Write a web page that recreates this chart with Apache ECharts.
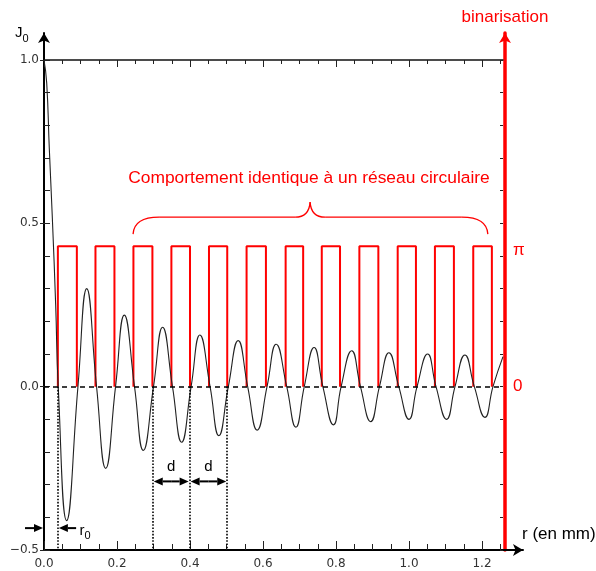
<!DOCTYPE html>
<html><head><meta charset="utf-8">
<script src="https://cdn.jsdelivr.net/npm/echarts@6/dist/echarts.min.js"></script>
<style>html,body{margin:0;padding:0;background:#fff}#c{width:596px;height:571px}</style>
</head><body><div id="c"></div>
<script>
// ---- data ----
// J0 curve samples: r (mm) and value
const besselR = [0, 0.0074, 0.0145, 0.0227, 0.032, 0.039, 0.062, 0.093, 0.117, 0.144, 0.169, 0.196, 0.220, 0.248, 0.272, 0.300, 0.325, 0.352, 0.377, 0.403, 0.427, 0.455, 0.479, 0.505, 0.532, 0.558, 0.584, 0.611, 0.636, 0.665, 0.690, 0.713, 0.740, 0.764, 0.793, 0.814, 0.843, 0.867, 0.895, 0.919, 0.945, 0.972, 1.000, 1.022, 1.051, 1.074, 1.103, 1.126, 1.153, 1.179, 1.208, 1.230, 1.2575];
const besselV = [1.0, 0.93, 0.73, 0.52, 0.25, 0, -0.41, 0, 0.30, 0, -0.25, 0, 0.219, 0, -0.195, 0, 0.182, 0, -0.17, 0, 0.158, 0, -0.15, 0, 0.141, 0, -0.133, 0, 0.13, 0, -0.124, 0, 0.12, 0, -0.117, 0, 0.11, 0, -0.107, 0, 0.104, 0, -0.10, 0, 0.10, 0, -0.10, 0, 0.097, 0, -0.094, 0, 0.092];
// binarisation edges (zero crossings), mm — pairs of rising/falling edges
const binEdges = [0.038, 0.090, 0.141, 0.193, 0.245, 0.297, 0.349, 0.400, 0.452, 0.502, 0.555, 0.608, 0.662, 0.710, 0.761, 0.811, 0.864, 0.916, 0.969, 1.019, 1.071, 1.123, 1.176, 1.227];
const binHigh = 0.43;            // level of "π" on the J0 scale
const xTickLabels = [0, 0.2, 0.4, 0.6, 0.8, 1.0, 1.2];
const yTickLabels = [-0.5, 0, 0.5, 1.0];
const rightLabels = [0, binHigh];
const r0 = 0.038;
const dLines = [0.298, 0.399, 0.502];
const dArrowY = -0.29, dLabelY = -0.245;
const r0ArrowY = -0.433, r0ArrowSpan = [-0.052, 0.088], r0LabelPos = [0.097, -0.44];
const braceX = [0.244, 1.216], braceMid = 0.729, braceY = [0.467, 0.519, 0.565];
const braceTextPos = [0.726, 0.639];
const X_MAX = 1.2575;

// ---- build ----
const xMinor = []; for (let i = 0; i <= 25; i++) xMinor.push(+(i * 0.05).toFixed(2));
const yMinor = []; for (let i = -5; i <= 10; i++) yMinor.push(+(i * 0.1).toFixed(1));
const curve = besselR.map((r, i) => [r, besselV[i]]);
const square = [];
for (let i = 0; i + 1 < binEdges.length; i += 2) {
  const a = binEdges[i], b = binEdges[i + 1];
  square.push([a, 0], [a, binHigh], [b, binHigh], [b, 0], [b, '-']);
}
const FONT = "'Liberation Sans', Arial, sans-serif";
const TFONT = "'DejaVu Sans', Verdana, sans-serif";
const tickStyle = {color: '#222', width: 1};
const noLine = {show: false, onZero: false};

const chart = echarts.init(document.getElementById('c'));
const option = {
  animation: false,
  backgroundColor: '#fff',
  grid: [
    {left: 44, right: 93, top: 60, bottom: 21},
    {left: 44, right: 73, top: 33, bottom: 21},
    {left: 44, right: 91, top: 33, bottom: 21}
  ],
  xAxis: [
    {gridIndex: 0, type: 'value', min: 0, max: X_MAX, position: 'bottom', axisLine: noLine, splitLine: {show: false},
     axisTick: {show: true, inside: true, length: 6, customValues: xMinor, lineStyle: tickStyle}, axisLabel: {show: false}},
    {gridIndex: 0, type: 'value', min: 0, max: X_MAX, position: 'bottom', axisLine: noLine, splitLine: {show: false},
     axisTick: {show: true, inside: true, length: 9, customValues: xTickLabels, lineStyle: tickStyle},
     axisLabel: {show: true, customValues: xTickLabels, formatter: v => v.toFixed(1), margin: 8, fontSize: 12, fontFamily: TFONT, color: '#333'}},
    {gridIndex: 0, type: 'value', min: 0, max: X_MAX, position: 'top', axisLine: {show: true, onZero: false, lineStyle: {color: '#111', width: 1.5}}, splitLine: {show: false},
     axisTick: {show: true, inside: true, length: 4, customValues: xMinor, lineStyle: tickStyle}, axisLabel: {show: false}},
    {gridIndex: 0, type: 'value', min: 0, max: X_MAX, position: 'top', axisLine: noLine, splitLine: {show: false},
     axisTick: {show: true, inside: true, length: 7, customValues: xTickLabels, lineStyle: tickStyle}, axisLabel: {show: false}},
    {gridIndex: 1, type: 'value', min: 0, max: 1, position: 'bottom', splitLine: {show: false},
     axisLine: {show: true, onZero: false, symbol: ['none', 'arrow'], symbolSize: [9, 10], lineStyle: {color: '#000', width: 2}},
     axisTick: {show: false}, axisLabel: {show: false}},
    {gridIndex: 2, type: 'value', min: 0, max: 1, show: false}
  ],
  yAxis: [
    {gridIndex: 0, type: 'value', min: -0.5, max: 1, position: 'left', axisLine: noLine, splitLine: {show: false},
     axisTick: {show: true, inside: true, length: 6, customValues: yMinor, lineStyle: tickStyle}, axisLabel: {show: false}},
    {gridIndex: 0, type: 'value', min: -0.5, max: 1, position: 'left', axisLine: noLine, splitLine: {show: false},
     axisTick: {show: true, inside: false, length: 4, customValues: yTickLabels, lineStyle: tickStyle},
     axisLabel: {show: true, customValues: yTickLabels, formatter: v => (v < 0 ? '\u2212' : '') + Math.abs(v).toFixed(1), margin: 5, fontSize: 12, fontFamily: TFONT, color: '#333'}},
    {gridIndex: 0, type: 'value', min: -0.5, max: 1, position: 'right', axisLine: noLine, splitLine: {show: false},
     axisTick: {show: true, inside: true, length: 3, customValues: yMinor, lineStyle: tickStyle},
     axisLabel: {show: true, customValues: rightLabels, formatter: v => v === 0 ? '0' : '{p|\u03c0}', margin: 10, fontSize: 17, fontFamily: FONT, color: '#f00',
       rich: {p: {fontSize: 17, fontFamily: FONT, color: '#f00', padding: [9, 0, 0, 0]}}}},
    {gridIndex: 1, type: 'value', min: 0, max: 1, position: 'left', splitLine: {show: false},
     axisLine: {show: true, onZero: false, symbol: ['none', 'arrow'], symbolSize: [9, 10], lineStyle: {color: '#000', width: 2}},
     axisTick: {show: false}, axisLabel: {show: false}},
    {gridIndex: 2, type: 'value', min: 0, max: 1, position: 'right', splitLine: {show: false},
     axisLine: {show: true, onZero: false, symbol: ['none', 'arrow'], symbolSize: [9, 10], lineStyle: {color: '#f00', width: 3.5}},
     axisTick: {show: false}, axisLabel: {show: false}}
  ],
  series: [
    {type: 'line', xAxisIndex: 0, yAxisIndex: 0, data: curve, smooth: 0.5, showSymbol: false, symbol: 'none', z: 4,
     lineStyle: {color: '#222', width: 1.1}, silent: true,
     markLine: {silent: true, symbol: 'none', label: {show: false}, animation: false,
       lineStyle: {color: '#000', type: [5, 4], width: 1.6}, data: [{yAxis: 0}]}},
    {type: 'line', xAxisIndex: 0, yAxisIndex: 0, data: square, showSymbol: false, symbol: 'none', z: 2, connectNulls: false,
     lineStyle: {color: '#f00', width: 2}, silent: true,
     markLine: {silent: true, symbol: 'none', label: {show: false}, animation: false,
       lineStyle: {color: '#000', type: 'dotted', width: 1.6},
       data: [r0].concat(dLines).map(x => [{coord: [x, 0]}, {coord: [x, -0.5]}])}}
  ]
};
chart.setOption(option);

// ---- annotations ----
const px = (x, y) => chart.convertToPixel({seriesIndex: 0}, [x, y]);
const g = [];
function arrow(x1, y1, x2, y2) {
  const L = 9, W = 4;
  const dx = x2 - x1, dy = y2 - y1, len = Math.hypot(dx, dy), ux = dx / len, uy = dy / len;
  const bx = x2 - ux * L, by = y2 - uy * L;
  g.push({type: 'line', shape: {x1: x1, y1: y1, x2: bx, y2: by}, style: {stroke: '#000', lineWidth: 2}});
  g.push({type: 'polygon', shape: {points: [[x2, y2], [bx - uy * W, by + ux * W], [bx + uy * W, by - ux * W]]}, style: {fill: '#000'}});
}
for (let i = 0; i + 1 < dLines.length; i++) {
  const a = px(dLines[i], dArrowY), b = px(dLines[i + 1], dArrowY);
  const m = [(a[0] + b[0]) / 2, a[1]];
  arrow(m[0], m[1], a[0] + 1, a[1]);
  arrow(m[0], m[1], b[0] - 1, b[1]);
  const t = px((dLines[i] + dLines[i + 1]) / 2, dLabelY);
  g.push({type: 'text', x: t[0], y: t[1], style: {text: 'd', fill: '#000', font: '15px ' + FONT, align: 'center', verticalAlign: 'middle'}});
}
{
  const a = px(r0ArrowSpan[0], r0ArrowY), b = px(0, r0ArrowY);
  arrow(a[0], a[1], b[0] - 1, b[1]);
  const c = px(r0ArrowSpan[1], r0ArrowY), d = px(r0, r0ArrowY);
  arrow(c[0], c[1], d[0] + 1, d[1]);
  const t = px(r0LabelPos[0], r0LabelPos[1]);
  g.push({type: 'text', x: t[0], y: t[1], style: {text: '{a|r}{b|0}', align: 'left', verticalAlign: 'middle',
    rich: {a: {fontSize: 15, fontFamily: FONT, fill: '#000', verticalAlign: 'bottom'}, b: {fontSize: 11, fontFamily: FONT, fill: '#000', verticalAlign: 'bottom', padding: [0, 0, -4, 0]}}}});
}
{
  const L = px(braceX[0], braceY[0]), R = px(braceX[1], braceY[0]);
  const fy = px(braceMid, braceY[1])[1], C = px(braceMid, braceY[2]);
  const bs = {stroke: '#f00', lineWidth: 1.3, fill: null};
  g.push({type: 'bezierCurve', shape: {x1: L[0], y1: L[1], cpx1: L[0] + 1, cpy1: fy, x2: L[0] + 26, y2: fy}, style: bs});
  g.push({type: 'line', shape: {x1: L[0] + 26, y1: fy, x2: C[0] - 15, y2: fy}, style: bs});
  g.push({type: 'bezierCurve', shape: {x1: C[0] - 15, y1: fy, cpx1: C[0] - 1, cpy1: fy, x2: C[0], y2: C[1]}, style: bs});
  g.push({type: 'bezierCurve', shape: {x1: C[0], y1: C[1], cpx1: C[0] + 1, cpy1: fy, x2: C[0] + 15, y2: fy}, style: bs});
  g.push({type: 'line', shape: {x1: C[0] + 15, y1: fy, x2: R[0] - 26, y2: fy}, style: bs});
  g.push({type: 'bezierCurve', shape: {x1: R[0] - 26, y1: fy, cpx1: R[0] - 1, cpy1: fy, x2: R[0], y2: R[1]}, style: bs});
  const t = px(braceTextPos[0], braceTextPos[1]);
  g.push({type: 'text', x: t[0], y: t[1], style: {text: 'Comportement identique à un réseau circulaire', fill: '#f00', font: '17.4px ' + FONT, align: 'center', verticalAlign: 'middle'}});
}
g.push({type: 'text', x: 505, y: 17, style: {text: 'binarisation', fill: '#f00', font: '17px ' + FONT, align: 'center', verticalAlign: 'middle'}});
g.push({type: 'text', x: 522, y: 534, style: {text: 'r (en mm)', fill: '#000', font: '17px ' + FONT, align: 'left', verticalAlign: 'middle'}});
g.push({type: 'text', x: 15, y: 33, style: {text: '{a|J}{b|0}', align: 'left', verticalAlign: 'middle',
  rich: {a: {fontSize: 15, fontFamily: FONT, fill: '#000', verticalAlign: 'bottom'}, b: {fontSize: 11, fontFamily: FONT, fill: '#000', verticalAlign: 'bottom', padding: [0, 0, -4, 0]}}}});
chart.setOption({graphic: g.map(e => Object.assign({silent: true, z: 10}, e))});
</script>
</body></html>
